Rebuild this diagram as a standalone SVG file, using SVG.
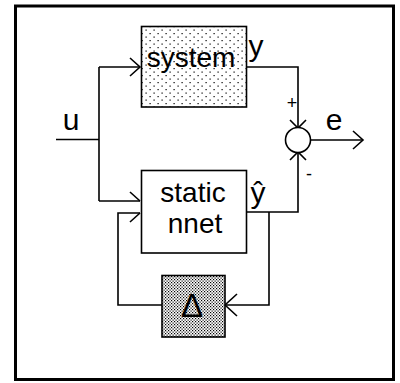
<svg xmlns="http://www.w3.org/2000/svg" width="400" height="383" viewBox="0 0 400 383">
<defs>
<pattern id="dotsLight" width="8" height="7" patternUnits="userSpaceOnUse">
<rect width="8" height="7" fill="#fff"/>
<rect x="1.5" y="1.5" width="1.2" height="1.2" fill="#000"/>
<rect x="5.5" y="5" width="1.2" height="1.2" fill="#000"/>
</pattern>
<pattern id="dotsDark" width="3" height="3" patternUnits="userSpaceOnUse">
<rect width="3" height="3" fill="#fff"/>
<rect x="0" y="0" width="1.2" height="1.2" fill="#000"/>
<rect x="1.5" y="1.5" width="1.2" height="1.2" fill="#000"/>
</pattern>
</defs>
<style>
.box{stroke:#000;stroke-width:1.6}
.ln{fill:none;stroke:#000;stroke-width:1.6}
.t{font-family:"Liberation Sans",Arial,sans-serif;fill:#000;text-anchor:middle}
.lbl{font-size:30px}
.bt{font-size:28px}
.sg{font-size:18px}
</style>
<rect width="400" height="383" fill="#fff"/>
<rect x="15.5" y="6" width="378" height="373.5" fill="none" stroke="#000" stroke-width="3"/>

<g id="connectors">
<path class="ln" d="M56,139.5 H99"/>
<path class="ln" d="M99,67 V201"/>
<path class="ln" d="M99,67 H140"/>
<path class="ln" d="M99,201 H140"/>
<path class="ln" d="M247,67 H298 V128"/>
<path class="ln" d="M310.5,140 H363"/>
<path class="ln" d="M247,212 H298 V152.5"/>
<path class="ln" d="M269,212 V305 H225"/>
<path class="ln" d="M162,305 H118 V213 H140"/>
<path class="ln" d="M130,58 L140,67 L130,76"/>
<path class="ln" d="M130,192 L140,201"/>
<path class="ln" d="M140,213 L130,222"/>
<path class="ln" d="M290,120 L298,128 L306,120"/>
<path class="ln" d="M290,160 L298,152 L306,160"/>
<path class="ln" d="M353,131 L363,140 L353,149"/>
<path class="ln" d="M237,294 L225,305 L237,316"/>
</g>

<g id="system">
<rect class="box" x="141.5" y="26.5" width="105" height="80.5" fill="url(#dotsLight)"/>
<text class="t bt" x="191" y="67">system</text>
</g>

<g id="static-nnet">
<rect class="box" x="141.5" y="170.5" width="105" height="82.5" fill="#fff"/>
<text class="t bt" x="193" y="202">static</text>
<text class="t bt" x="195" y="233">nnet</text>
</g>

<g id="delta">
<rect class="box" x="162" y="275.5" width="63" height="61.5" fill="url(#dotsDark)"/>
<text class="t" x="192" y="317" font-size="33">Δ</text>
</g>

<g id="sum">
<circle cx="298" cy="140" r="12.5" fill="#fff" stroke="#000" stroke-width="1.6"/>
<text class="t sg" x="292" y="108.5">+</text>
<text class="t sg" x="309" y="180">-</text>
</g>

<g id="labels">
<text class="t lbl" x="71" y="130">u</text>
<text class="t lbl" x="256" y="56">y</text>
<text class="t lbl" x="258" y="203">ŷ</text>
<text class="t lbl" x="334" y="130">e</text>
</g>
</svg>
